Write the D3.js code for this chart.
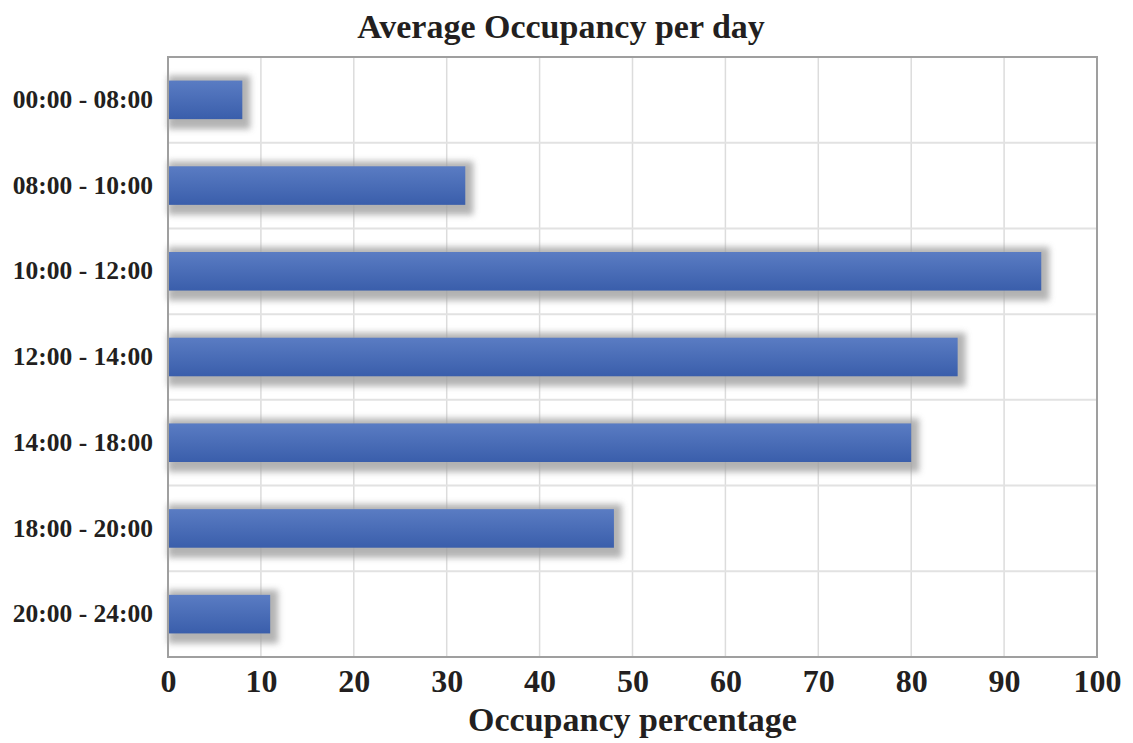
<!DOCTYPE html>
<html>
<head>
<meta charset="utf-8">
<script src="https://cdn.jsdelivr.net/npm/d3@7"></script>
<style>
  body { margin: 0; background: #fff; }
  text { font-family: "Liberation Serif", "DejaVu Serif", serif; font-weight: bold; fill: #231f20; }
</style>
</head>
<body>
<div class="chart"></div>
<script>
var categories = ["00:00 - 08:00", "08:00 - 10:00", "10:00 - 12:00", "12:00 - 14:00",
                  "14:00 - 18:00", "18:00 - 20:00", "20:00 - 24:00"];
var occupancy = [8, 32, 94, 85, 80, 48, 11];
var xTicks = [0, 10, 20, 30, 40, 50, 60, 70, 80, 90, 100];

var data = categories.map(function(c, i) { return {name: c, value: occupancy[i]}; });

// set the dimensions and margins of the graph
var margin = {top: 57, right: 36, bottom: 86, left: 168},
    width = 1133 - margin.left - margin.right,
    height = 743 - margin.top - margin.bottom;

var svg = d3.select(".chart").append("svg")
    .attr("width", 1133)
    .attr("height", 743);

var defs = svg.append("defs");
var grad = defs.append("linearGradient")
    .attr("id", "barGrad")
    .attr("x1", 0).attr("y1", 0).attr("x2", 0).attr("y2", 1);
grad.append("stop").attr("offset", "0%").attr("stop-color", "#5a7cc3");
grad.append("stop").attr("offset", "100%").attr("stop-color", "#3a5eab");

var blur = defs.append("filter").attr("id", "blur")
    .attr("x", "-10%").attr("y", "-50%").attr("width", "120%").attr("height", "200%");
blur.append("feGaussianBlur").attr("stdDeviation", 3);

var g = svg.append("g")
    .attr("transform", "translate(" + margin.left + "," + margin.top + ")");

// set the ranges
var x = d3.scaleLinear().domain([0, 100]).range([0, width]);
var y = d3.scaleBand().domain(categories).range([0, height]).paddingInner(0.55).paddingOuter(0.275);
var yb = d3.scaleBand().domain(categories).range([0, height]);

// grid lines
g.selectAll(".vgrid")
    .data(xTicks)
  .enter().append("line")
    .attr("x1", function(d) { return x(d); })
    .attr("x2", function(d) { return x(d); })
    .attr("y1", 0).attr("y2", height)
    .attr("stroke", "#dcdcdc").attr("stroke-width", 1.5);

g.selectAll(".hgrid")
    .data(categories.slice(1))
  .enter().append("line")
    .attr("x1", 0).attr("x2", width)
    .attr("y1", function(d) { return yb(d); })
    .attr("y2", function(d) { return yb(d); })
    .attr("stroke", "#e2e2e2").attr("stroke-width", 2);

// bar shadows
g.selectAll(".shadow")
    .data(data)
  .enter().append("rect")
    .attr("x", 0)
    .attr("y", function(d) { return y(d.name) - 5; })
    .attr("width", function(d) { return x(d.value) + 8; })
    .attr("height", y.bandwidth() + 15)
    .attr("fill", "#a0a0a0")
    .attr("opacity", 0.8)
    .attr("filter", "url(#blur)");

// bars
g.selectAll(".bar")
    .data(data)
  .enter().append("rect")
    .attr("class", "bar")
    .attr("x", 0)
    .attr("y", function(d) { return y(d.name); })
    .attr("width", function(d) { return x(d.value); })
    .attr("height", y.bandwidth())
    .attr("fill", "url(#barGrad)");

// frame
g.append("rect")
    .attr("x", 0).attr("y", 0)
    .attr("width", width).attr("height", height)
    .attr("fill", "none")
    .attr("stroke", "#9f9f9f").attr("stroke-width", 2);

// x axis
var xAxis = g.append("g")
    .attr("transform", "translate(0," + height + ")")
    .call(d3.axisBottom(x).tickValues(xTicks).tickSize(0).tickPadding(12));
xAxis.select(".domain").remove();
xAxis.selectAll("text")
    .style("font-size", "32px")
    .style("font-family", "Liberation Serif, serif")
    .attr("fill", "#231f20");

// y axis
var yAxis = g.append("g")
    .call(d3.axisLeft(yb).tickSize(0).tickPadding(15));
yAxis.select(".domain").remove();
yAxis.selectAll("text")
    .style("font-size", "25.5px")
    .style("font-family", "Liberation Serif, serif")
    .attr("fill", "#231f20");

svg.append("text")
    .attr("x", 561)
    .attr("y", 38)
    .attr("text-anchor", "middle")
    .style("font-size", "34px")
    .text("Average Occupancy per day");

svg.append("text")
    .attr("x", margin.left + width / 2)
    .attr("y", 731)
    .attr("text-anchor", "middle")
    .style("font-size", "34px")
    .text("Occupancy percentage");
</script>
</body>
</html>
